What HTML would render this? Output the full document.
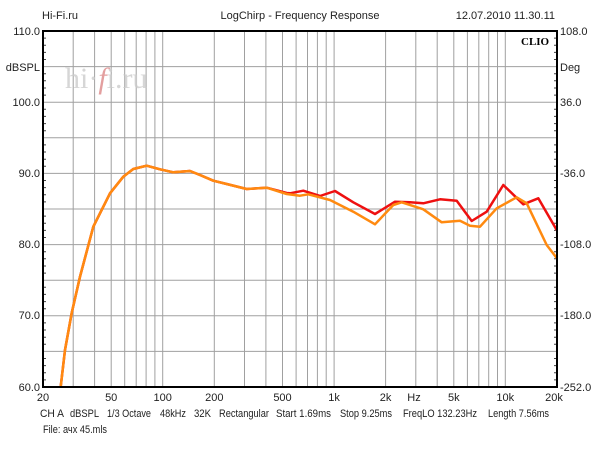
<!DOCTYPE html>
<html><head><meta charset="utf-8"><style>
html,body{margin:0;padding:0;background:#fff;}
svg{display:block;}
text{font-family:"Liberation Sans",Arial,sans-serif;font-size:11px;fill:#222;}
</style></head><body>
<svg width="600" height="450" viewBox="0 0 600 450" xmlns="http://www.w3.org/2000/svg">
<rect width="600" height="450" fill="#fff"/>
<g stroke="#a0a0a0" stroke-width="1">
<line x1="43" y1="66.6" x2="557" y2="66.6"/><line x1="43" y1="102.2" x2="557" y2="102.2"/>
<line x1="43" y1="137.8" x2="557" y2="137.8"/><line x1="43" y1="173.4" x2="557" y2="173.4"/>
<line x1="43" y1="209" x2="557" y2="209"/><line x1="43" y1="244.6" x2="557" y2="244.6"/>
<line x1="43" y1="280.2" x2="557" y2="280.2"/><line x1="43" y1="315.8" x2="557" y2="315.8"/>
<line x1="43" y1="351.4" x2="557" y2="351.4"/>
<line x1="73.2" y1="31" x2="73.2" y2="387"/><line x1="94.6" y1="31" x2="94.6" y2="387"/>
<line x1="111.2" y1="31" x2="111.2" y2="387"/><line x1="124.7" y1="31" x2="124.7" y2="387"/>
<line x1="136.2" y1="31" x2="136.2" y2="387"/><line x1="146.1" y1="31" x2="146.1" y2="387"/>
<line x1="154.9" y1="31" x2="154.9" y2="387"/><line x1="162.7" y1="31" x2="162.7" y2="387"/>
<line x1="214.3" y1="31" x2="214.3" y2="387"/><line x1="244.5" y1="31" x2="244.5" y2="387"/>
<line x1="265.9" y1="31" x2="265.9" y2="387"/><line x1="282.5" y1="31" x2="282.5" y2="387"/>
<line x1="296.1" y1="31" x2="296.1" y2="387"/><line x1="307.5" y1="31" x2="307.5" y2="387"/>
<line x1="317.4" y1="31" x2="317.4" y2="387"/><line x1="326.2" y1="31" x2="326.2" y2="387"/>
<line x1="334.1" y1="31" x2="334.1" y2="387"/><line x1="385.6" y1="31" x2="385.6" y2="387"/>
<line x1="415.8" y1="31" x2="415.8" y2="387"/><line x1="437.2" y1="31" x2="437.2" y2="387"/>
<line x1="453.8" y1="31" x2="453.8" y2="387"/><line x1="467.4" y1="31" x2="467.4" y2="387"/>
<line x1="478.8" y1="31" x2="478.8" y2="387"/><line x1="488.7" y1="31" x2="488.7" y2="387"/>
<line x1="497.5" y1="31" x2="497.5" y2="387"/><line x1="505.3" y1="31" x2="505.3" y2="387"/>
</g>
<g stroke="#444" stroke-width="1">
<path d="M43 38.1h3M43 45.2h3M43 52.4h3M43 59.5h3M43 73.7h3M43 80.8h3M43 88h3M43 95.1h3M43 109.3h3M43 116.4h3M43 123.6h3M43 130.7h3M43 144.9h3M43 152h3M43 159.2h3M43 166.3h3M43 180.5h3M43 187.6h3M43 194.8h3M43 201.9h3M43 216.1h3M43 223.2h3M43 230.4h3M43 237.5h3M43 251.7h3M43 258.8h3M43 266h3M43 273.1h3M43 287.3h3M43 294.4h3M43 301.6h3M43 308.7h3M43 322.9h3M43 330h3M43 337.2h3M43 344.3h3M43 358.5h3M43 365.6h3M43 372.8h3M43 379.9h3"/>
<path transform="translate(511,0)" d="M43 38.1h3M43 45.2h3M43 52.4h3M43 59.5h3M43 73.7h3M43 80.8h3M43 88h3M43 95.1h3M43 109.3h3M43 116.4h3M43 123.6h3M43 130.7h3M43 144.9h3M43 152h3M43 159.2h3M43 166.3h3M43 180.5h3M43 187.6h3M43 194.8h3M43 201.9h3M43 216.1h3M43 223.2h3M43 230.4h3M43 237.5h3M43 251.7h3M43 258.8h3M43 266h3M43 273.1h3M43 287.3h3M43 294.4h3M43 301.6h3M43 308.7h3M43 322.9h3M43 330h3M43 337.2h3M43 344.3h3M43 358.5h3M43 365.6h3M43 372.8h3M43 379.9h3"/>
</g>
<text x="65" y="88" style="font-family:'Liberation Serif',serif;font-size:30px;fill:#ccc;opacity:0.8">hi·<tspan style="fill:#d88;font-style:italic">f</tspan>i.ru</text>
<polyline fill="none" stroke="#ee1010" stroke-width="2.5" stroke-linejoin="round" points="60.7,386.7 65,350 71.7,313 80,276.7 93.3,226.7 110,193.3 123.3,176.7 133.3,169 146.7,165.7 160,169.3 173.3,172.3 190,171 200,175 213.3,180.7 226.7,184 246.7,189 266.7,187.7 286.7,193 290,193.3 303.3,190.7 320,196 335,191 353.3,202.3 375,214 395,201.7 410,202.3 423.3,203.3 440,199.3 456.7,200.7 471.7,221 486.7,211.7 503.3,185 523.3,204.3 538.3,198.3 556.7,230"/>
<polyline fill="none" stroke="#ff8a10" stroke-width="2.5" stroke-linejoin="round" points="60.7,386.7 65,350 71.7,313 80,276.7 93.3,226.7 110,193.3 123.3,176.7 133.3,169 146.7,165.7 160,169.3 173.3,172.3 190,171 200,175 213.3,180.7 226.7,184 246.7,189 266.7,187.7 286.7,194 300,195.7 308.3,194.3 330,200 353.3,211.7 375,224.3 393.3,205 401.7,202.3 423.3,209.3 441.7,222.3 460,220.7 470,225.7 480,226.7 496.7,208.3 516.7,197.3 526.7,203.3 546.7,245 556.7,258"/>
<rect x="43" y="31" width="514" height="356" fill="none" stroke="#000" stroke-width="2"/>
<text x="521" y="45" style="font-family:'Liberation Serif',serif;font-weight:bold;font-size:11px;fill:#000">CLIO</text>
<text x="42" y="19">Hi-Fi.ru</text>
<text x="300" y="19" text-anchor="middle">LogChirp - Frequency Response</text>
<text x="555" y="19" text-anchor="end">12.07.2010 11.30.11</text>
<g text-anchor="end">
<text x="40" y="35">110.0</text><text x="40" y="71">dBSPL</text><text x="40" y="106">100.0</text>
<text x="40" y="177">90.0</text><text x="40" y="248">80.0</text><text x="40" y="319">70.0</text><text x="40" y="391">60.0</text>
</g>
<g>
<text x="560" y="35">108.0</text><text x="560" y="71">Deg</text><text x="560" y="106">36.0</text>
<text x="560" y="177">-36.0</text><text x="560" y="248">-108.0</text><text x="560" y="319">-180.0</text><text x="560" y="391">-252.0</text>
</g>
<g text-anchor="middle">
<text x="43" y="401">20</text><text x="111.2" y="401">50</text><text x="162.7" y="401">100</text>
<text x="214.3" y="401">200</text><text x="282.5" y="401">500</text><text x="334.1" y="401">1k</text>
<text x="385.6" y="401">2k</text><text x="414" y="401">Hz</text><text x="453.8" y="401">5k</text>
<text x="505.3" y="401">10k</text><text x="554" y="401">20k</text>
</g>
<g style="font-size:11px">
<text x="40" y="417" textLength="24" lengthAdjust="spacingAndGlyphs">CH A</text>
<text x="70" y="417" textLength="29" lengthAdjust="spacingAndGlyphs">dBSPL</text>
<text x="107" y="417" textLength="44" lengthAdjust="spacingAndGlyphs">1/3 Octave</text>
<text x="160" y="417" textLength="26" lengthAdjust="spacingAndGlyphs">48kHz</text>
<text x="194" y="417" textLength="17" lengthAdjust="spacingAndGlyphs">32K</text>
<text x="219" y="417" textLength="50" lengthAdjust="spacingAndGlyphs">Rectangular</text>
<text x="276" y="417" textLength="55" lengthAdjust="spacingAndGlyphs">Start 1.69ms</text>
<text x="340" y="417" textLength="52" lengthAdjust="spacingAndGlyphs">Stop 9.25ms</text>
<text x="403" y="417" textLength="74" lengthAdjust="spacingAndGlyphs">FreqLO 132.23Hz</text>
<text x="488" y="417" textLength="61" lengthAdjust="spacingAndGlyphs">Length 7.56ms</text>
<text x="43" y="433" textLength="64" lengthAdjust="spacingAndGlyphs">File: ачх 45.mls</text>
</g>
</svg>
</body></html>
